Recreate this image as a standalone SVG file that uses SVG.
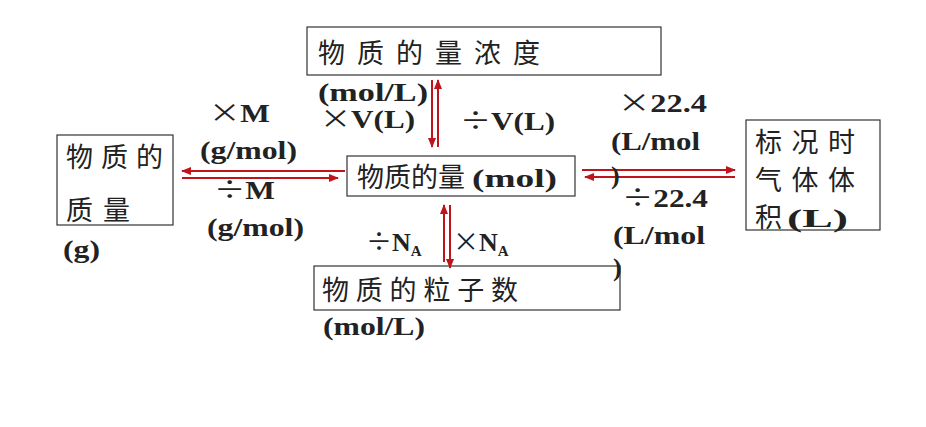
<svg xmlns="http://www.w3.org/2000/svg" width="926" height="427" viewBox="0 0 926 427">
<style>
.box{fill:#fff;stroke:#333;stroke-width:1.2}
.cn{font-family:"Noto Sans CJK SC",sans-serif;font-size:27px;fill:#222}
.lb{font-family:"Liberation Serif",serif;font-weight:bold;font-size:26px;fill:#222}
.op{font-family:"Noto Sans CJK SC",sans-serif;font-weight:normal}
.ln{stroke:#c0141c;stroke-width:2;fill:none;marker-end:url(#ah)}
</style>
<defs><marker id="ah" markerWidth="10" markerHeight="8" refX="9" refY="4" orient="auto" markerUnits="userSpaceOnUse"><path d="M0,0 L10,4 L0,8 Z" fill="#c0141c"/></marker></defs>
<rect width="926" height="427" fill="#fff"/>
<g id="conc"><rect class="box" x="307" y="27" width="354" height="48"/><text class="cn" x="318" y="63" textLength="222">物质的量浓度</text></g>
<g id="mol"><rect class="box" x="347" y="156" width="228" height="40"/><text class="cn" x="357" y="187" textLength="108">物质的量</text><text class="lb" x="472" y="187" textLength="85" lengthAdjust="spacingAndGlyphs">(mol)</text></g>
<g id="mass"><rect class="box" x="57" y="135" width="116" height="90"/><text class="cn" x="66" y="167" textLength="97">物质的</text><text class="cn" x="66" y="220" textLength="64">质量</text><text class="lb" x="63" y="258" textLength="37" lengthAdjust="spacingAndGlyphs">(g)</text></g>
<g id="gas"><rect class="box" x="746" y="120" width="134" height="110"/><text class="cn" x="755" y="152" textLength="100">标况时</text><text class="cn" x="755" y="190" textLength="100">气体体</text><text class="cn" x="755" y="227">积</text><text class="lb" x="787" y="227" textLength="61" lengthAdjust="spacingAndGlyphs">(L)</text></g>
<g id="part"><rect class="box" x="314" y="266" width="306" height="44"/><text class="cn" x="322" y="300" textLength="196">物质的粒子数</text></g>
<g id="connectors">
<line class="ln" x1="432" y1="80" x2="432" y2="147"/>
<line class="ln" x1="438" y1="147" x2="438" y2="80"/>
<line class="ln" x1="345" y1="171" x2="182" y2="171"/>
<line class="ln" x1="182" y1="178" x2="338" y2="178"/>
<line class="ln" x1="582" y1="170" x2="735" y2="170"/>
<line class="ln" x1="735" y1="177" x2="585" y2="177"/>
<line class="ln" x1="444" y1="262" x2="444" y2="205"/>
<line class="ln" x1="450" y1="205" x2="450" y2="268"/>
</g>
<g id="labels">
<text class="lb" x="318" y="101" textLength="110" lengthAdjust="spacingAndGlyphs">(mol/L)</text>
<text class="lb" x="320" y="128" textLength="95" lengthAdjust="spacingAndGlyphs"><tspan class="op">×</tspan>V(L)</text>
<text class="lb" x="460" y="130" textLength="95" lengthAdjust="spacingAndGlyphs"><tspan class="op">÷</tspan>V(L)</text>
<text class="lb" x="209" y="122" textLength="61" lengthAdjust="spacingAndGlyphs"><tspan class="op">×</tspan>M</text>
<text class="lb" x="200" y="159" textLength="97" lengthAdjust="spacingAndGlyphs">(g/mol)</text>
<text class="lb" x="214" y="199" textLength="61" lengthAdjust="spacingAndGlyphs"><tspan class="op">÷</tspan>M</text>
<text class="lb" x="207" y="236" textLength="97" lengthAdjust="spacingAndGlyphs">(g/mol)</text>
<text class="lb" x="618" y="112" textLength="89" lengthAdjust="spacingAndGlyphs"><tspan class="op">×</tspan>22.4</text>
<text class="lb" x="611" y="150" textLength="89" lengthAdjust="spacingAndGlyphs">(L/mol</text>
<text class="lb" x="611" y="184">)</text>
<text class="lb" x="622" y="207" textLength="86" lengthAdjust="spacingAndGlyphs"><tspan class="op">÷</tspan>22.4</text>
<text class="lb" x="613" y="244" textLength="92" lengthAdjust="spacingAndGlyphs">(L/mol</text>
<text class="lb" x="613" y="276">)</text>
<text class="lb" x="366" y="251"><tspan class="op">÷</tspan>N<tspan font-size="15" dy="5">A</tspan></text>
<text class="lb" x="453" y="251"><tspan class="op">×</tspan>N<tspan font-size="15" dy="5">A</tspan></text>
<text class="lb" x="323" y="335" textLength="102" lengthAdjust="spacingAndGlyphs">(mol/L)</text>
</g>
</svg>
